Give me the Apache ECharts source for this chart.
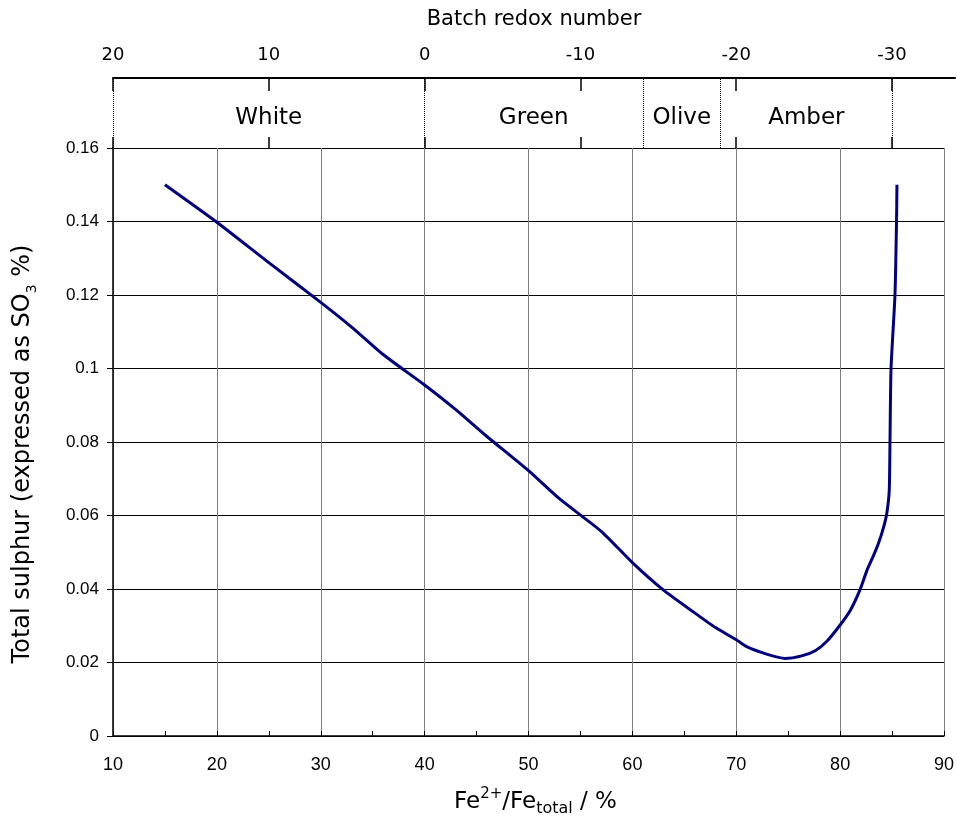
<!DOCTYPE html>
<html><head><meta charset="utf-8">
<script src="https://cdn.jsdelivr.net/npm/echarts@6/dist/echarts.min.js"></script>
<style>html,body{margin:0;padding:0;background:#fff}#c{width:957px;height:816px}</style>
</head><body><div id="c"></div>
<script>
// Fe2+/Fe_total (%) and total sulphur (SO3 %)
var feValues = [15, 20, 25, 30, 33, 36, 40, 43, 46, 50, 53, 57, 60, 63, 66, 68, 70, 71, 73, 74.7, 76.3, 77.6, 78.7, 80, 81, 81.9, 82.6, 83.2, 83.7, 84.2, 84.5, 84.73, 84.8, 84.9, 85.28, 85.43, 85.47];
var so3Values = [0.150, 0.1398, 0.1288, 0.118, 0.1112, 0.1038, 0.0955, 0.0888, 0.0815, 0.0722, 0.0645, 0.0557, 0.0472, 0.0397, 0.0335, 0.0295, 0.0262, 0.0243, 0.0222, 0.0211, 0.0218, 0.0232, 0.0257, 0.0302, 0.0343, 0.0397, 0.0452, 0.0490, 0.0525, 0.0570, 0.0607, 0.0669, 0.080, 0.100, 0.120, 0.140, 0.150];
// top axis: batch redox number
var redoxTicks = [20, 10, 0, -10, -20, -30];
var regionNames = ['White', 'Green', 'Olive', 'Amber'];
var regionBounds = [20, 0, -14, -19, -30];

function redoxToFe(r) { return 10 + (20 - r) * 1.5; }

var titleFont = 'DejaVu Sans';
var tickFont = 'Liberation Sans';

var lineData = feValues.map(function (x, i) { return [x, so3Values[i]]; });
var boundLines = regionBounds.map(function (r) { return { xAxis: redoxToFe(r) }; });
var areas = regionNames.map(function (n, i) {
  return [{ name: n, xAxis: redoxToFe(regionBounds[i]) }, { xAxis: redoxToFe(regionBounds[i + 1]) }];
});
var redoxFe = redoxTicks.map(redoxToFe);

var chart = echarts.init(document.getElementById('c'), null, { renderer: 'canvas' });
chart.setOption({
  animation: false,
  backgroundColor: '#fff',
  grid: [
    { left: 113, right: 13, top: 148, bottom: 80, outerBoundsMode: 'none', containLabel: false },
    { left: 113, right: 2, top: 78, height: 70, outerBoundsMode: 'none', containLabel: false }
  ],
  xAxis: [
    {
      type: 'value', gridIndex: 0, min: 10, max: 90, interval: 10,
      axisLine: { show: true, lineStyle: { color: '#000', width: 1.5 } },
      axisTick: { show: true, inside: true, length: 5, lineStyle: { color: '#000' } },
      minorTick: { show: true, splitNumber: 2, length: 5, lineStyle: { color: '#000' } },
      splitLine: { show: true, lineStyle: { color: '#808080', width: 1 } },
      axisLabel: { color: '#000', fontFamily: tickFont, fontSize: 18, margin: 20 },
      name: 'Fe{sup|2+}/Fe{sub|total} / %',
      nameLocation: 'middle', nameGap: 51,
      nameTextStyle: {
        color: '#000', fontFamily: titleFont, fontSize: 23, lineHeight: 30,
        padding: [0, 0, 0, 14],
        rich: {
          sup: { fontFamily: titleFont, fontSize: 15, lineHeight: 16, verticalAlign: 'top', color: '#000' },
          sub: { fontFamily: titleFont, fontSize: 16, lineHeight: 16, verticalAlign: 'bottom', color: '#000' }
        }
      }
    },
    {
      type: 'value', gridIndex: 1, position: 'top', min: 10, max: 91.06,
      axisLine: { show: true, onZero: false, lineStyle: { color: '#000', width: 2 } },
      axisTick: { show: true, inside: true, length: 13, customValues: redoxFe, lineStyle: { color: '#000', width: 1.5 } },
      splitLine: { show: false },
      axisLabel: {
        color: '#000', fontFamily: titleFont, fontSize: 18, margin: 14,
        customValues: redoxFe,
        formatter: function (v) { return String(Math.round(20 - (v - 10) / 1.5)); }
      },
      name: 'Batch redox number', nameLocation: 'middle', nameGap: 48,
      nameTextStyle: { color: '#000', fontFamily: titleFont, fontSize: 21 }
    },
    {
      type: 'value', gridIndex: 1, position: 'top', min: 10, max: 91.06,
      axisLine: { show: false },
      axisTick: { show: true, inside: false, length: 11, customValues: redoxFe, lineStyle: { color: '#000', width: 1.5 } },
      splitLine: { show: false },
      axisLabel: { show: false }
    }
  ],
  yAxis: [
    {
      type: 'value', gridIndex: 0, min: 0, max: 0.16, interval: 0.02,
      axisLine: { show: true, lineStyle: { color: '#000', width: 1.5 } },
      axisTick: { show: true, length: 6, lineStyle: { color: '#000' } },
      splitLine: { show: true, lineStyle: { color: '#000', width: 1 } },
      axisLabel: { color: '#000', fontFamily: tickFont, fontSize: 17, margin: 14 },
      name: 'Total sulphur (expressed as SO{sub|3} %)',
      nameLocation: 'middle', nameGap: 74, nameRotate: 90,
      nameTextStyle: {
        color: '#000', fontFamily: titleFont, fontSize: 24, lineHeight: 32,
        padding: [0, 24, 0, 0],
        rich: {
          sub: { fontFamily: titleFont, fontSize: 14, lineHeight: 16, verticalAlign: 'bottom', color: '#000' }
        }
      }
    },
    {
      type: 'value', gridIndex: 1, min: 0, max: 1, show: false
    }
  ],
  series: [
    {
      type: 'line', xAxisIndex: 0, yAxisIndex: 0, data: lineData,
      showSymbol: false, smooth: 0.2,
      lineStyle: { color: '#000080', width: 3 }
    },
    {
      type: 'line', xAxisIndex: 1, yAxisIndex: 1, data: [],
      markLine: {
        silent: true, symbol: 'none', label: { show: false },
        lineStyle: { color: '#000', type: 'dotted', width: 1 },
        data: boundLines
      },
      markArea: {
        silent: true, itemStyle: { color: 'rgba(0,0,0,0)' },
        label: { show: true, position: 'inside', offset: [0, 5], color: '#000', fontFamily: titleFont, fontSize: 23 },
        data: areas
      }
    }
  ]
});
</script></body></html>
